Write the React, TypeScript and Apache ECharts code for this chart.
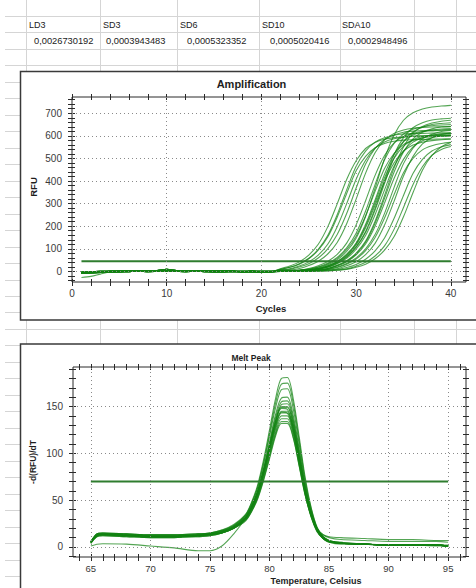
import React, { useEffect, useRef } from "react";
import * as echarts from "echarts";

// ---------- spreadsheet table ----------
const TABLE_HEADERS = ["LD3", "SD3", "SD6", "SD10", "SDA10"];
const TABLE_VALUES = ["0,0026730192", "0,0003943483", "0,0005323352", "0,0005020416", "0,0002948496"];

// ---------- amplification ----------
const CYCLES = [1, 2, 3, 4, 5, 6, 7, 8, 9, 10, 11, 12, 13, 14, 15, 16, 17, 18, 19, 20, 21, 22, 23, 24, 25, 26, 27, 28, 29, 30, 31, 32, 33, 34, 35, 36, 37, 38, 39, 40];
// baseline noise for cycles 1..21
const BASE_A = [-6, -4, -3, -1, 0, 1, 2, 1, 2, 4, 2, 1, 2, 1, 0, 1, 0, -1, 0, -1, -1];
const BASE_B = [-3, -2, 0, 1, 2, 3, 2, 3, 4, 9, 4, 3, 4, 3, 2, 1, 1, 0, 1, 0, 0];
const BASE_C = [-9, -7, -5, -3, -2, -1, 0, -1, 0, 1, 0, -1, 0, -1, -2, -2, -1, -2, -2, -3, -2];
const BASE_D = [-27, -22, -12, -3, -1, 0, 1, 0, 1, 3, 1, 0, 1, 0, -1, 0, 0, -1, -1, -2, -1];
// RFU for cycles 22..40
const AMP_E1 = [9, 18, 34, 58, 98, 159, 251, 361, 465, 532, 572, 592, 603, 608, 610, 611, 612, 613, 614];
const AMP_E2 = [6, 12, 24, 42, 72, 120, 198, 300, 408, 492, 546, 573, 587, 594, 598, 600, 601, 602, 603];
const AMP_E3 = [9, 18, 32, 56, 94, 152, 240, 345, 445, 509, 547, 566, 576, 581, 583, 584, 585, 586, 587];
const AMP_E4 = [5, 9, 19, 34, 59, 100, 163, 256, 369, 475, 544, 584, 604, 616, 621, 623, 625, 626, 627];
const AMP_E5 = [4, 6, 13, 26, 45, 77, 128, 211, 320, 435, 525, 582, 611, 626, 634, 637, 639, 640, 641];
const AMP_E6 = [12, 24, 42, 72, 120, 197, 299, 407, 490, 544, 571, 585, 592, 596, 598, 599, 600, 600, 601];
const AMP_M1 = [2, 4, 6, 13, 25, 44, 75, 125, 206, 313, 425, 513, 569, 597, 611, 619, 622, 625, 627];
const AMP_M2 = [1, 2, 4, 7, 15, 29, 51, 88, 147, 243, 368, 500, 603, 669, 702, 719, 728, 732, 735];
const AMP_M3 = [1, 2, 5, 9, 18, 33, 57, 96, 156, 246, 354, 456, 522, 561, 580, 591, 596, 598, 600];
const AMP_M4 = [0, 1, 3, 6, 11, 20, 38, 65, 109, 177, 279, 401, 517, 592, 636, 658, 670, 675, 678];
const AMP_M5 = [1, 2, 4, 6, 13, 25, 44, 76, 126, 209, 316, 430, 518, 575, 604, 618, 626, 630, 632];
const AMP_M6 = [1, 2, 4, 6, 12, 23, 41, 70, 117, 193, 293, 398, 480, 532, 559, 572, 579, 583, 585];
const AMP_M7 = [0, 1, 3, 5, 10, 20, 36, 63, 106, 172, 271, 389, 502, 574, 617, 638, 650, 655, 658];
const AMP_M8 = [0, 1, 2, 5, 9, 18, 34, 58, 98, 159, 251, 361, 465, 532, 572, 592, 603, 608, 610];
const AMP_M9 = [0, 1, 2, 4, 6, 13, 26, 45, 77, 129, 213, 323, 439, 529, 587, 616, 631, 639, 642];
const AMP_M10 = [0, 1, 2, 4, 6, 12, 24, 42, 73, 121, 200, 303, 411, 496, 551, 578, 592, 599, 603];
const AMP_M11 = [0, 0, 1, 3, 5, 9, 19, 35, 60, 100, 163, 257, 371, 477, 546, 587, 607, 619, 624];
const AMP_M12 = [0, 0, 1, 2, 5, 9, 17, 32, 55, 92, 150, 236, 339, 437, 500, 538, 556, 566, 571];
const AMP_M13 = [0, 0, 1, 2, 4, 6, 12, 25, 43, 74, 124, 205, 310, 422, 508, 564, 592, 606, 614];
const AMP_M14 = [1, 2, 4, 6, 12, 24, 43, 73, 122, 201, 305, 415, 500, 555, 583, 597, 604, 608, 610];
const AMP_M15 = [1, 3, 5, 10, 20, 36, 62, 104, 169, 267, 384, 494, 566, 608, 629, 640, 645, 648, 650];
const AMP_M16 = [0, 1, 2, 4, 7, 13, 27, 47, 81, 134, 222, 336, 457, 551, 612, 642, 657, 665, 669];
const AMP_L1 = [0, 0, 0, 1, 2, 5, 9, 17, 31, 54, 91, 148, 234, 336, 433, 496, 533, 551, 561];
const AMP_L2 = [0, 0, 0, 1, 2, 3, 6, 11, 23, 40, 68, 113, 186, 283, 384, 463, 514, 540, 553];
const AMP_L3 = [0, 0, 0, 0, 1, 2, 5, 9, 18, 32, 56, 94, 153, 242, 348, 448, 513, 552, 571];
const AMP_CURVES: [number[], number[]][] = [
  [BASE_A, AMP_E1], [BASE_B, AMP_E2], [BASE_C, AMP_E3], [BASE_A, AMP_E4], [BASE_B, AMP_E5], [BASE_C, AMP_E6],
  [BASE_A, AMP_M1], [BASE_B, AMP_M2], [BASE_C, AMP_M3], [BASE_A, AMP_M4], [BASE_B, AMP_M5], [BASE_C, AMP_M6],
  [BASE_A, AMP_M7], [BASE_B, AMP_M8], [BASE_C, AMP_M9], [BASE_A, AMP_M10], [BASE_B, AMP_M11], [BASE_C, AMP_M12],
  [BASE_A, AMP_M13], [BASE_B, AMP_M14], [BASE_C, AMP_M15], [BASE_A, AMP_M16],
  [BASE_B, AMP_L1], [BASE_C, AMP_L2], [BASE_D, AMP_L3],
];
const AMP_THRESHOLD = 45;
const AMP_THRESHOLD_RANGE = [1, 40];
const AMP_X_TICKS = [0, 2, 4, 6, 8, 10, 12, 14, 16, 18, 20, 22, 24, 26, 28, 30, 32, 34, 36, 38, 40];
const AMP_X_LABELS = [0, 10, 20, 30, 40];
const AMP_Y_TICKS = [-40, -20, 0, 20, 40, 60, 80, 100, 120, 140, 160, 180, 200, 220, 240, 260, 280, 300, 320, 340, 360, 380, 400, 420, 440, 460, 480, 500, 520, 540, 560, 580, 600, 620, 640, 660, 680, 700, 720, 740, 760];
const AMP_Y_LABELS = [0, 100, 200, 300, 400, 500, 600, 700];

// ---------- melt peak ----------
const MELT_TEMPS = [65, 65.5, 66, 68, 70, 72, 74, 75, 76, 77, 78, 78.5, 79, 79.5, 80, 80.5, 81, 81.5, 82, 82.5, 83, 83.5, 84, 84.5, 85, 86, 88, 90, 92, 94, 95];
const MELT_1 = [6, 14, 15, 14, 13, 13, 14, 15, 18, 24, 35, 48, 66, 93, 125, 158, 180, 181, 158, 117, 74, 42, 21, 11, 7, 5, 3, 2, 2, 2, 1];
const MELT_2 = [5, 13, 14, 13, 12, 12, 13, 14, 17, 23, 34, 47, 64, 90, 121, 153, 174, 175, 153, 113, 71, 41, 20, 11, 7, 5, 3, 2, 2, 2, 1];
const MELT_3 = [6, 14, 15, 14, 13, 13, 14, 15, 18, 23, 34, 46, 63, 88, 118, 148, 168, 169, 147, 109, 68, 39, 20, 11, 7, 4, 3, 2, 2, 2, 2];
const MELT_4 = [5, 12, 13, 12, 11, 11, 12, 13, 16, 21, 32, 44, 60, 84, 112, 141, 159, 160, 140, 104, 66, 38, 19, 10, 6, 4, 3, 2, 2, 2, 1];
const MELT_5 = [5, 13, 14, 13, 12, 12, 13, 14, 17, 22, 33, 44, 60, 83, 110, 138, 155, 156, 136, 101, 64, 37, 19, 10, 6, 4, 3, 2, 2, 2, 1];
const MELT_6 = [4, 11, 12, 11, 10, 10, 11, 12, 15, 20, 30, 42, 58, 81, 108, 135, 152, 153, 134, 99, 62, 36, 18, 10, 6, 4, 3, 2, 2, 2, 1];
const MELT_7 = [5, 12, 13, 12, 11, 11, 12, 13, 16, 21, 31, 43, 58, 81, 107, 134, 150, 150, 131, 97, 61, 35, 18, 10, 6, 4, 3, 2, 2, 2, 1];
const MELT_8 = [5, 12, 13, 12, 11, 11, 12, 13, 16, 21, 31, 42, 57, 80, 106, 132, 148, 147, 128, 95, 60, 35, 18, 10, 6, 4, 3, 2, 2, 2, 1];
const MELT_9 = [5, 14, 15, 14, 13, 13, 14, 15, 17, 22, 32, 42, 56, 78, 104, 129, 145, 145, 126, 93, 59, 34, 18, 10, 6, 4, 3, 2, 2, 2, 1];
const MELT_10 = [4, 11, 12, 11, 10, 10, 11, 12, 15, 20, 30, 40, 55, 77, 102, 127, 143, 143, 125, 92, 58, 34, 17, 9, 6, 4, 3, 2, 2, 1, 1];
const MELT_11 = [5, 13, 14, 13, 12, 12, 13, 14, 16, 21, 31, 40, 54, 76, 100, 125, 140, 140, 122, 90, 57, 33, 17, 9, 6, 4, 3, 2, 2, 2, 1];
const MELT_12 = [4, 12, 13, 12, 11, 11, 12, 13, 15, 20, 29, 39, 53, 74, 98, 122, 137, 137, 120, 88, 56, 32, 17, 9, 5, 3, 3, 2, 2, 2, 1];
const MELT_13 = [5, 12, 13, 12, 11, 11, 12, 13, 15, 20, 29, 38, 52, 72, 96, 120, 134, 134, 117, 86, 55, 32, 16, 9, 5, 4, 3, 2, 2, 2, 1];
const MELT_14 = [5, 12, 13, 12, 11, 11, 12, 13, 15, 20, 28, 38, 51, 71, 94, 118, 132, 132, 116, 86, 55, 33, 19, 13, 11, 10, 9, 8, 8, 7, 7];
const MELT_15 = [5, 13, 14, 13, 12, 12, 13, 14, 16, 21, 31, 42, 57, 80, 106, 133, 149, 149, 130, 96, 61, 36, 20, 13, 10, 8, 7, 6, 6, 6, 5];
const MELT_16 = [1, 3, 3.5, 3, 1, -1, -4, -4, 1, 14, 31, 43, 58, 80, 104, 130, 144, 143, 124, 92, 58, 34, 17, 9, 6, 4, 3, 2, 2, 2, 1];
const MELT_CURVES = [MELT_1, MELT_2, MELT_3, MELT_4, MELT_5, MELT_6, MELT_7, MELT_8, MELT_9, MELT_10, MELT_11, MELT_12, MELT_13, MELT_14, MELT_15, MELT_16];
const MELT_THRESHOLD = 70;
const MELT_THRESHOLD_RANGE = [65, 95];
const MELT_X_TICKS = [64, 65, 66, 67, 68, 69, 70, 71, 72, 73, 74, 75, 76, 77, 78, 79, 80, 81, 82, 83, 84, 85, 86, 87, 88, 89, 90, 91, 92, 93, 94, 95, 96];
const MELT_X_LABELS = [65, 70, 75, 80, 85, 90, 95];
const MELT_Y_TICKS = [-10, 0, 10, 20, 30, 40, 50, 60, 70, 80, 90, 100, 110, 120, 130, 140, 150, 160, 170, 180, 190];
const MELT_Y_LABELS = [0, 50, 100, 150];

const FONT = "'Liberation Sans', Arial, sans-serif";
const CURVE_COLOR = "rgba(18,130,18,0.72)";
const THRESH_COLOR = "#2f7d2f";

function axes(dim: "x" | "y", gridIndex: number, min: number, max: number, ticks: number[], labels: number[], margin: number, fontSize: number) {
  const common: any = {
    type: "value", gridIndex, min, max,
    splitLine: { show: false },
    axisLine: { show: false, onZero: false },
    minorTick: { show: false },
  };
  const tickLine = { color: "#2a2a2a", width: 1 };
  const near = dim === "x" ? "bottom" : "left";
  const far = dim === "x" ? "top" : "right";
  return [
    {
      ...common, position: near,
      axisTick: { show: true, inside: false, length: 4, customValues: ticks, lineStyle: tickLine },
      axisLabel: { show: true, customValues: labels, margin, color: "#3a3a3a", fontSize, fontFamily: FONT },
    },
    { ...common, position: near, axisTick: { show: true, inside: true, length: 3, customValues: ticks, lineStyle: tickLine }, axisLabel: { show: false } },
    { ...common, position: far, axisTick: { show: true, inside: false, length: 3, customValues: ticks, lineStyle: tickLine }, axisLabel: { show: false } },
    { ...common, position: far, axisTick: { show: true, inside: true, length: 3, customValues: ticks, lineStyle: tickLine }, axisLabel: { show: false } },
  ];
}

function gridSeries(idx: number, xs: number[], ys: number[]) {
  return {
    type: "line", xAxisIndex: idx, yAxisIndex: idx, data: [], silent: true, z: 1,
    markLine: {
      silent: true, symbol: ["none", "none"], label: { show: false }, animation: false,
      lineStyle: { color: "#8a8a8a", type: [1, 3], width: 1 },
      emphasis: { disabled: true },
      data: [...xs.map((v) => ({ xAxis: v })), ...ys.map((v) => ({ yAxis: v }))],
    },
  };
}

function text(t: string, x: number, y: number, size: number, opts: any = {}) {
  return {
    type: "text", x, y, z: 10, rotation: opts.rotation || 0, silent: true,
    style: {
      text: t, fill: opts.fill || "#1e1e1e", font: `${opts.weight || "bold"} ${size}px ${opts.family || FONT}`,
      textAlign: opts.align || "center", textVerticalAlign: "middle",
    },
  };
}

function sheetGraphics() {
  const els: any[] = [];
  const ls = { stroke: "#d5d5d5", lineWidth: 1 };
  const cols = [26, 100, 177, 259, 340, 414, 456];
  cols.forEach((x) => {
    els.push({ type: "line", z: -20, silent: true, shape: { x1: x + 0.5, y1: 0, x2: x + 0.5, y2: 72 }, style: ls });
    els.push({ type: "line", z: -20, silent: true, shape: { x1: x + 0.5, y1: 320, x2: x + 0.5, y2: 344 }, style: ls });
  });
  for (let k = 0; k <= 35; k++) {
    const y = Math.round(16 + 16.47 * k) + 0.5;
    const full = y < 72 || (y > 321 && y < 343);
    els.push({ type: "line", z: -20, silent: true, shape: { x1: 5, y1: y, x2: full ? 476 : 20, y2: y }, style: ls });
  }
  els.push({ type: "rect", z: -10, silent: true, shape: { x: 20.5, y: 71.5, width: 470, height: 248.5 }, style: { fill: "#fff", stroke: "#3a3a3a", lineWidth: 1.5 } });
  els.push({ type: "rect", z: -10, silent: true, shape: { x: 20.5, y: 344, width: 470, height: 260 }, style: { fill: "#fff", stroke: "#3a3a3a", lineWidth: 1.5 } });

  const headerX = [29, 103, 180, 262, 342];
  const valueX = [34, 106, 187, 270, 348];
  TABLE_HEADERS.forEach((h, i) => els.push(text(h, headerX[i], 24.5, 9, { weight: "normal", align: "left", fill: "#222" })));
  TABLE_VALUES.forEach((v, i) => els.push(text(v, valueX[i], 41, 9.3, { weight: "normal", align: "left", fill: "#222" })));

  els.push(text("Amplification", 251.5, 84, 11));
  els.push(text("Cycles", 271, 308, 9.5));
  els.push(text("RFU", 33.5, 187, 9.5, { rotation: Math.PI / 2 }));
  els.push(text("Melt Peak", 251, 357.5, 8.5));
  els.push(text("-d(RFU)/dT", 33, 462, 8.5, { rotation: Math.PI / 2 }));
  els.push(text("Temperature, Celsius", 316, 580.5, 9));
  return els;
}

function buildOption(): any {
  const series: any[] = [];
  series.push(gridSeries(0, AMP_X_LABELS.filter((v) => v > 0), AMP_Y_LABELS));
  AMP_CURVES.forEach(([base, tail]) => {
    const vals = base.concat(tail);
    series.push({
      type: "line", xAxisIndex: 0, yAxisIndex: 0, silent: true, z: 2,
      showSymbol: false, symbol: "none", smooth: 0.3,
      lineStyle: { color: CURVE_COLOR, width: 1.1 },
      data: CYCLES.map((c, i) => [c, vals[i]]),
    });
  });
  series.push({
    type: "line", xAxisIndex: 0, yAxisIndex: 0, silent: true, z: 3, showSymbol: false, symbol: "none",
    lineStyle: { color: THRESH_COLOR, width: 2 },
    data: AMP_THRESHOLD_RANGE.map((c) => [c, AMP_THRESHOLD]),
  });

  series.push(gridSeries(4, MELT_X_LABELS, MELT_Y_LABELS));
  MELT_CURVES.forEach((vals) => {
    series.push({
      type: "line", xAxisIndex: 4, yAxisIndex: 4, silent: true, z: 2,
      showSymbol: false, symbol: "none", smooth: 0.3,
      lineStyle: { color: CURVE_COLOR, width: 1.1 },
      data: MELT_TEMPS.map((t, i) => [t, vals[i]]),
    });
  });
  series.push({
    type: "line", xAxisIndex: 4, yAxisIndex: 4, silent: true, z: 3, showSymbol: false, symbol: "none",
    lineStyle: { color: THRESH_COLOR, width: 2 },
    data: MELT_THRESHOLD_RANGE.map((t) => [t, MELT_THRESHOLD]),
  });

  return {
    animation: false,
    backgroundColor: "#ffffff",
    grid: [
      { left: 72, top: 97, width: 394, height: 185, show: true, borderColor: "#2a2a2a", borderWidth: 1, backgroundColor: "transparent" },
      { left: 73, top: 367, width: 393, height: 190, show: true, borderColor: "#2a2a2a", borderWidth: 1, backgroundColor: "transparent" },
    ],
    xAxis: [
      ...axes("x", 0, 0, 41.6, AMP_X_TICKS, AMP_X_LABELS, 6, 10),
      ...axes("x", 1, 63.5, 96.5, MELT_X_TICKS, MELT_X_LABELS, 6, 9.5),
    ],
    yAxis: [
      ...axes("y", 0, -47, 772, AMP_Y_TICKS, AMP_Y_LABELS, 10, 10),
      ...axes("y", 1, -10.7, 192.2, MELT_Y_TICKS, MELT_Y_LABELS, 10, 10),
    ],
    graphic: { elements: sheetGraphics() },
    series,
  };
}

export default function App() {
  const ref = useRef<HTMLDivElement>(null);
  useEffect(() => {
    if (!ref.current) return;
    const chart = echarts.init(ref.current, null, { renderer: "svg" });
    chart.setOption(buildOption());
    return () => chart.dispose();
  }, []);
  return <div ref={ref} style={{ position: "fixed", left: 0, top: 0, width: 476, height: 588, background: "#fff" }} />;
}
